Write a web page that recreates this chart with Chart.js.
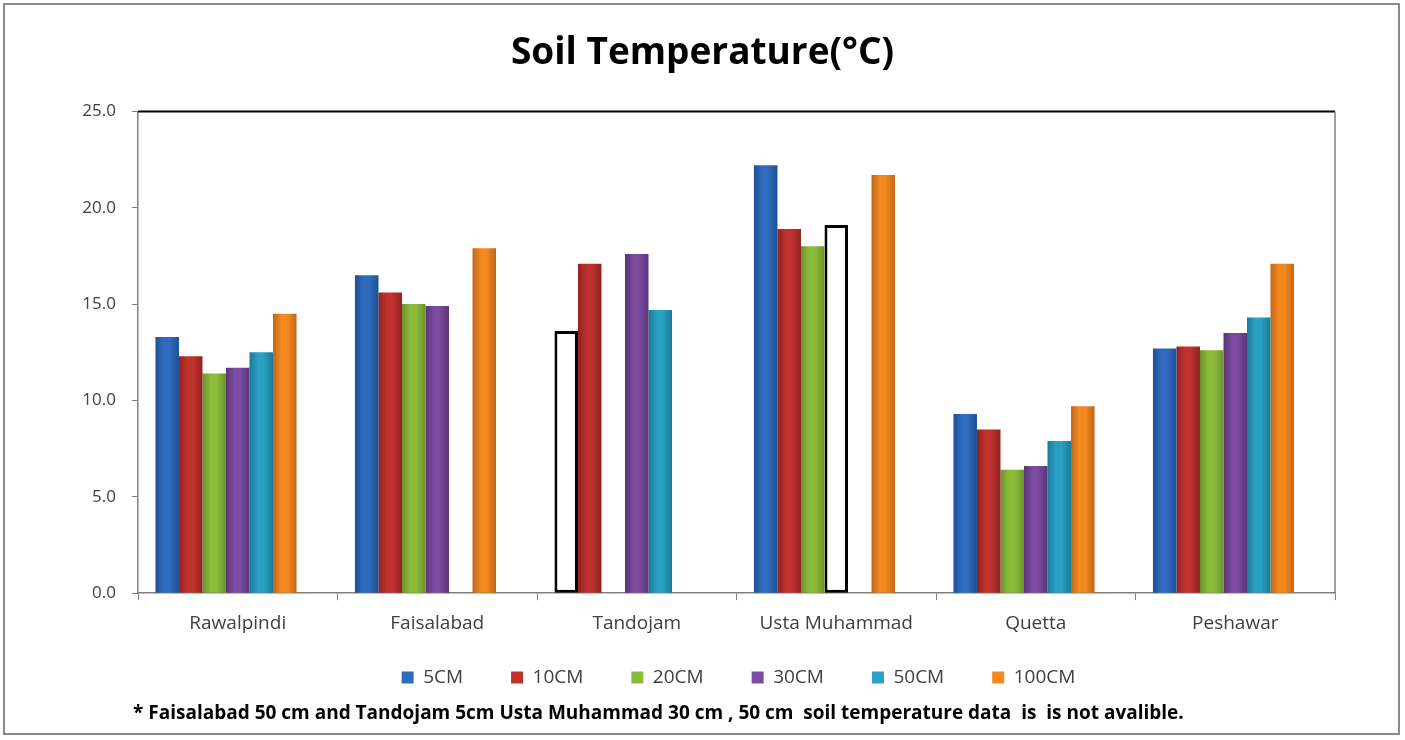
<!DOCTYPE html>
<html>
<head>
<meta charset="utf-8">
<script src="https://cdn.jsdelivr.net/npm/chart.js@4.4.1/dist/chart.umd.min.js"></script>
<style>
  html, body { margin: 0; padding: 0; background: #fff; }
  #wrap { position: absolute; left: 3px; top: 3px; width: 1397px; height: 732px; border: 2px solid #8a8a8a; box-sizing: border-box; }
  canvas { position: absolute; left: 0; top: 0; }
</style>
</head>
<body>
<div id="wrap"></div>
<canvas id="chart" width="1405" height="740"></canvas>
<script>
const stations = ['Rawalpindi', 'Faisalabad', 'Tandojam', 'Usta Muhammad', 'Quetta', 'Peshawar'];
const depths = ['5CM', '10CM', '20CM', '30CM', '50CM', '100CM'];

const temp5cm = [13.3, 16.5, 13.6, 22.2, 9.3, 12.7];
const temp10cm = [12.3, 15.6, 17.1, 18.9, 8.5, 12.8];
const temp20cm = [11.4, 15.0, null, 18.0, 6.4, 12.6];
const temp30cm = [11.7, 14.9, 17.6, 19.1, 6.6, 13.5];
const temp50cm = [12.5, null, 14.7, null, 7.9, 14.3];
const temp100cm = [14.5, 17.9, null, 21.7, 9.7, 17.1];

// bars drawn as empty boxes because the data is not available
const notAvailable = [[0, 2], [3, 3]]; // [depth index, station index]

const yTicks = [0, 5, 10, 15, 20, 25];
const note = '* Faisalabad 50 cm and Tandojam 5cm Usta Muhammad 30 cm , 50 cm  soil temperature data  is  is not avalible.';

const colors = ['#2f6cbf', '#c0322e', '#8cbb3c', '#7a4b9e', '#2aa0c2', '#f4891f'];
const darks = ['#1f4f95', '#8f2220', '#6a9328', '#5a3478', '#1a7a98', '#c0661a'];
const series = [temp5cm, temp10cm, temp20cm, temp30cm, temp50cm, temp100cm];

function isMissing(d, i) {
    return notAvailable.some(p => p[0] === d && p[1] === i);
}

const datasets = series.map((vals, d) => ({
    label: depths[d],
    data: vals,
    backgroundColor: ctx => isMissing(d, ctx.dataIndex) ? '#ffffff' : colors[d],
    borderColor: ctx => isMissing(d, ctx.dataIndex) ? '#000000' : colors[d],
    borderWidth: ctx => isMissing(d, ctx.dataIndex) ? 3 : 0,
    borderSkipped: false,
    categoryPercentage: 0.825,
    barPercentage: 1.0
}));
// empty slot after the groups: the original groups sit a little left of centre
datasets.push({ label: '', data: stations.map(() => null), categoryPercentage: 0.825, barPercentage: 1.0 });

// cylinder-like shading on the coloured bars
const shading = {
    id: 'shading',
    beforeDatasetsDraw(chart) {
        const c = chart.ctx;
        series.forEach((vals, d) => {
            chart.getDatasetMeta(d).data.forEach((el, i) => {
                if (isMissing(d, i) || vals[i] == null) return;
                const x0 = el.x - el.width / 2, x1 = el.x + el.width / 2;
                const g = c.createLinearGradient(x0, 0, x1, 0);
                g.addColorStop(0, darks[d]);
                g.addColorStop(0.35, colors[d]);
                g.addColorStop(0.6, colors[d]);
                g.addColorStop(1, darks[d]);
                el.options.backgroundColor = g;
            });
        });
    }
};

// nudge the legend up and right, to where the original sits
const legendShift = {
    id: 'legendShift',
    afterLayout(chart) {
        const lg = chart.legend;
        lg.top -= 27; lg.bottom -= 27;
        lg.left += 36; lg.right += 36;
    }
};

const frame = {
    id: 'frame',
    afterDraw(chart) {
        const a = chart.chartArea, c = chart.ctx;
        c.save();
        c.strokeStyle = '#000';
        c.lineWidth = 2;
        c.beginPath();
        c.moveTo(a.left, a.top);
        c.lineTo(a.right, a.top);
        c.stroke();
        c.strokeStyle = '#808080';
        c.lineWidth = 1.5;
        c.beginPath();
        c.moveTo(a.right, a.top);
        c.lineTo(a.right, a.bottom);
        c.stroke();
        c.fillStyle = '#000';
        c.font = 'bold 19px "Open Sans"';
        c.textBaseline = 'middle';
        c.fillText(note, 133, 714);
        c.restore();
    }
};

new Chart(document.getElementById('chart'), {
    type: 'bar',
    data: { labels: stations, datasets: datasets },
    options: {
        responsive: false,
        animation: false,
        layout: { padding: { left: 0, right: 0, top: 6, bottom: 16 } },
        scales: {
            x: {
                grid: { display: true, drawOnChartArea: false, offset: true, color: '#808080', tickLength: 7 },
                border: { color: '#808080', width: 1.5 },
                ticks: { color: '#404040', font: { family: 'Open Sans', size: 19 }, padding: 12 }
            },
            y: {
                min: 0, max: 25,
                afterBuildTicks: s => { s.ticks = yTicks.map(v => ({ value: v })); },
                afterFit: s => { s.width = 138; },
                grid: { display: true, drawOnChartArea: false, color: '#808080', tickLength: 6 },
                border: { color: '#808080', width: 1.5 },
                ticks: { color: '#404040', font: { family: 'Open Sans', size: 17 }, padding: 16,
                         callback: v => Number(v).toFixed(1) }
            },
            yRight: {
                position: 'right',
                display: true,
                min: 0, max: 25,
                afterFit: s => { s.width = 70; },
                grid: { display: false },
                border: { display: false },
                ticks: { display: false }
            }
        },
        plugins: {
            title: {
                display: true,
                text: 'Soil Temperature(°C)',
                color: '#000',
                font: { family: 'Open Sans', size: 37, weight: 'bold' },
                padding: { top: 25, bottom: 36 }
            },
            legend: {
                position: 'bottom',
                labels: { color: '#404040', font: { family: 'Open Sans', size: 19 },
                          boxWidth: 12, boxHeight: 12, padding: 48,
                          filter: item => item.text !== '' }
            },
            tooltip: { enabled: false }
        }
    },
    plugins: [shading, legendShift, frame]
});
</script>
</body>
</html>
